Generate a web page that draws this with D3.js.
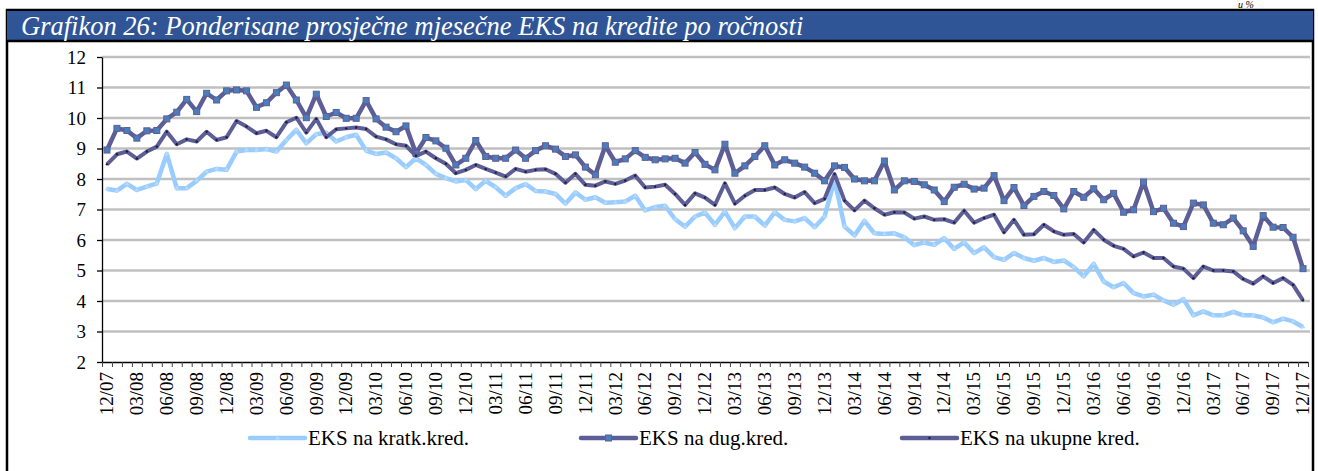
<!DOCTYPE html>
<html>
<head>
<meta charset="utf-8">
<script src="https://cdn.jsdelivr.net/npm/d3@7"></script>
<style>
  body { margin: 0; background: #fff; }
  svg { display: block; }
</style>
</head>
<body>
<svg id="chart" width="1318" height="471"></svg>
<script>
// mjeseci od 12/07 do 12/17
const startYear = 2007, startMonth = 12, nMonths = 121;
const months = [];
for (let k = 0; k < nMonths; k++) {
  const m = (startMonth - 1 + k) % 12 + 1;
  const yr = startYear + Math.floor((startMonth - 1 + k) / 12);
  months.push(String(m).padStart(2, '0') + '/' + String(yr % 100).padStart(2, '0'));
}
const shownLabels = months.filter((d, i) => i % 3 === 0);
const yTicks = [2, 3, 4, 5, 6, 7, 8, 9, 10, 11, 12];

const kratk = [7.67, 7.62, 7.84, 7.64, 7.75, 7.86, 8.82, 7.70, 7.70, 7.94, 8.24, 8.33, 8.30, 8.90, 8.95, 8.95, 8.98, 8.90, 9.28, 9.61,
  9.17, 9.47, 9.52, 9.23, 9.37, 9.45, 8.93, 8.82, 8.87, 8.68, 8.39, 8.68, 8.46, 8.17, 8.03, 7.92, 7.97, 7.67, 7.94, 7.73,
  7.45, 7.70, 7.83, 7.61, 7.59, 7.51, 7.19, 7.56, 7.32, 7.40, 7.22, 7.24, 7.26, 7.45, 6.97, 7.08, 7.12, 6.68, 6.44, 6.77,
  6.90, 6.50, 6.93, 6.39, 6.77, 6.77, 6.47, 6.91, 6.66, 6.61, 6.72, 6.42, 6.77, 7.97, 6.44, 6.15, 6.63, 6.22, 6.20, 6.22,
  6.09, 5.83, 5.92, 5.84, 6.06, 5.71, 5.92, 5.57, 5.76, 5.44, 5.35, 5.57, 5.41, 5.32, 5.41, 5.28, 5.33, 5.11, 4.81, 5.22,
  4.64, 4.45, 4.59, 4.26, 4.15, 4.21, 4.02, 3.88, 4.06, 3.53, 3.66, 3.53, 3.53, 3.64, 3.53, 3.53, 3.46, 3.30, 3.42, 3.33, 3.15];

const dug = [8.95, 9.66, 9.59, 9.34, 9.58, 9.59, 9.97, 10.19, 10.61, 10.21, 10.81, 10.59, 10.89, 10.92, 10.89, 10.35, 10.50, 10.83, 11.08, 10.59,
  10.01, 10.78, 10.05, 10.18, 9.99, 9.99, 10.57, 9.97, 9.70, 9.55, 9.74, 8.84, 9.36, 9.25, 9.01, 8.46, 8.68, 9.26, 8.74, 8.68,
  8.68, 8.95, 8.68, 8.93, 9.09, 8.98, 8.74, 8.79, 8.39, 8.14, 9.09, 8.55, 8.66, 8.93, 8.71, 8.63, 8.66, 8.68, 8.52, 8.87,
  8.48, 8.30, 9.14, 8.19, 8.43, 8.74, 9.09, 8.46, 8.63, 8.52, 8.39, 8.19, 7.94, 8.43, 8.38, 8.00, 7.94, 7.94, 8.59, 7.64,
  7.94, 7.92, 7.81, 7.64, 7.26, 7.73, 7.83, 7.67, 7.70, 8.11, 7.29, 7.72, 7.13, 7.43, 7.59, 7.46, 7.02, 7.59, 7.40, 7.68,
  7.32, 7.53, 6.91, 6.99, 7.90, 6.93, 7.04, 6.55, 6.44, 7.21, 7.15, 6.55, 6.50, 6.72, 6.30, 5.79, 6.80, 6.42, 6.41, 6.09, 5.06];

const ukupne = [8.48, 8.81, 8.90, 8.67, 8.90, 9.06, 9.55, 9.14, 9.30, 9.23, 9.55, 9.28, 9.37, 9.90, 9.72, 9.50, 9.58, 9.37, 9.86, 10.01,
  9.52, 9.97, 9.37, 9.63, 9.66, 9.69, 9.64, 9.39, 9.30, 9.14, 9.09, 8.76, 8.90, 8.68, 8.50, 8.19, 8.30, 8.46, 8.33, 8.21,
  8.08, 8.33, 8.24, 8.30, 8.32, 8.17, 7.88, 8.17, 7.81, 7.78, 7.92, 7.84, 7.95, 8.11, 7.72, 7.75, 7.81, 7.51, 7.15, 7.53,
  7.39, 7.15, 7.86, 7.19, 7.45, 7.64, 7.64, 7.72, 7.51, 7.39, 7.57, 7.21, 7.35, 8.16, 7.29, 6.97, 7.29, 7.04, 6.83, 6.91,
  6.90, 6.70, 6.77, 6.66, 6.68, 6.57, 6.96, 6.57, 6.72, 6.83, 6.25, 6.66, 6.17, 6.19, 6.50, 6.28, 6.17, 6.20, 5.92, 6.33,
  6.01, 5.81, 5.71, 5.46, 5.59, 5.41, 5.41, 5.13, 5.06, 4.75, 5.13, 5.00, 5.00, 4.97, 4.72, 4.57, 4.81, 4.59, 4.75, 4.53, 4.02];

const seriesNames = ['EKS na kratk.kred.', 'EKS na dug.kred.', 'EKS na ukupne kred.'];

const svg = d3.select('#chart');
const FONT = 'Liberation Serif';
const plot = {left: 102, right: 1308, top: 57, bottom: 362};
const darkC = '#5e5e96', lightC = '#99ccff';

// okvir i naslov
svg.append('rect').attr('x', 7).attr('y', 10).attr('width', 1306).attr('height', 480)
  .attr('fill', 'none').attr('stroke', '#000').attr('stroke-width', 2.5);
svg.append('rect').attr('x', 7).attr('y', 10).attr('width', 1306).attr('height', 31).attr('fill', '#2f5597');
svg.append('line').attr('x1', 7).attr('x2', 1313).attr('y1', 41).attr('y2', 41).attr('stroke', '#000').attr('stroke-width', 2.5);
svg.append('rect').attr('x', 7).attr('y', 9).attr('width', 1306).attr('height', 2).attr('fill', '#000');
svg.append('text').attr('x', 21).attr('y', 35)
  .attr('font-family', FONT).attr('font-style', 'italic').attr('font-size', 26.5).attr('fill', '#fff')
  .text('Grafikon 26: Ponderisane prosječne mjesečne EKS na kredite po ročnosti');
svg.append('text').attr('x', 1238).attr('y', 8)
  .attr('font-family', FONT).attr('font-style', 'italic').attr('font-size', 10)
  .text('u %');

// skale
const x = d3.scaleBand().domain(months).range([plot.left, plot.right]);
const xIdx = d3.scaleLinear().domain([0, nMonths]).range([plot.left, plot.right]);
const y = d3.scaleLinear().domain([2, 12]).range([plot.bottom, plot.top]);
const cx = d => x(d) + x.bandwidth() / 2;

// mreža
svg.append('g').selectAll('line').data(yTicks.filter(t => t > 2)).join('line')
  .attr('x1', plot.left).attr('x2', plot.right + 2)
  .attr('y1', d => y(d)).attr('y2', d => y(d))
  .attr('stroke', '#c0c0c0').attr('stroke-width', 2.5);

// y os
const yAx = svg.append('g').attr('transform', `translate(${plot.left},0)`)
  .call(d3.axisLeft(y).tickValues(yTicks).tickSize(5).tickSizeOuter(0).tickPadding(11));
yAx.selectAll('text').attr('font-family', FONT).attr('font-size', 19).attr('fill', '#000');
yAx.selectAll('line, path').attr('stroke', '#000').attr('stroke-width', 1.3);

// x os - crtice na granicama mjeseci
const xAx = svg.append('g').attr('transform', `translate(0,${plot.bottom})`)
  .call(d3.axisBottom(xIdx).tickValues(d3.range(nMonths + 1)).tickSize(5).tickSizeOuter(0).tickFormat(''));
xAx.selectAll('line, path').attr('stroke', '#000').attr('stroke-width', 1.3);
xAx.selectAll('line').attr('stroke-width', 1).attr('stroke', '#444');

const xLab = svg.append('g').attr('transform', `translate(0,${plot.bottom})`)
  .call(d3.axisBottom(x).tickValues(shownLabels).tickSize(0));
xLab.select('.domain').remove();
xLab.selectAll('text')
  .attr('font-family', FONT).attr('font-size', 19).attr('fill', '#000')
  .attr('transform', 'rotate(-90)')
  .attr('x', -10).attr('y', 0).attr('dy', '0.33em')
  .style('text-anchor', 'end');

// linije
const line = d3.line().x((d, i) => cx(months[i])).y(d => y(d));

function drawSeries(data, color, width, marker) {
  const g = svg.append('g');
  g.append('path').datum(data).attr('d', line)
    .attr('fill', 'none').attr('stroke', color).attr('stroke-width', width)
    .attr('stroke-linejoin', 'round');
  marker(g.selectAll('.m').data(data).join('g')
    .attr('transform', (d, i) => `translate(${cx(months[i])},${y(d)})`));
}

const markKratk = sel => sel.append('path').attr('d', d3.symbol(d3.symbolTriangle, 10))
  .attr('fill', '#b9d9f7').attr('stroke', 'none');
const markDug = sel => sel.append('rect').attr('x', -3).attr('y', -3).attr('width', 6).attr('height', 6)
  .attr('fill', '#4a7ebb').attr('stroke', darkC).attr('stroke-width', 1);
const markUk = sel => sel.append('circle').attr('r', 1.2).attr('fill', '#1c1c40');

drawSeries(kratk, lightC, 4.5, markKratk);
drawSeries(dug, darkC, 4.5, markDug);
drawSeries(ukupne, darkC, 4, markUk);

// legenda
const legX = [250, 581, 902];
const legY = 438;
const markers = [markKratk, markDug, markUk];
const colors = [lightC, darkC, darkC];
seriesNames.forEach((name, k) => {
  const g = svg.append('g');
  g.append('line').attr('x1', legX[k]).attr('x2', legX[k] + 55).attr('y1', legY).attr('y2', legY)
    .attr('stroke', colors[k]).attr('stroke-width', 4.5).attr('stroke-linecap', 'round');
  markers[k](g.append('g').attr('transform', `translate(${legX[k] + 27.5},${legY})`));
  g.append('text').attr('x', legX[k] + 58).attr('y', legY + 7)
    .attr('font-family', FONT).attr('font-size', 21)
    .text(name);
});
</script>
</body>
</html>
